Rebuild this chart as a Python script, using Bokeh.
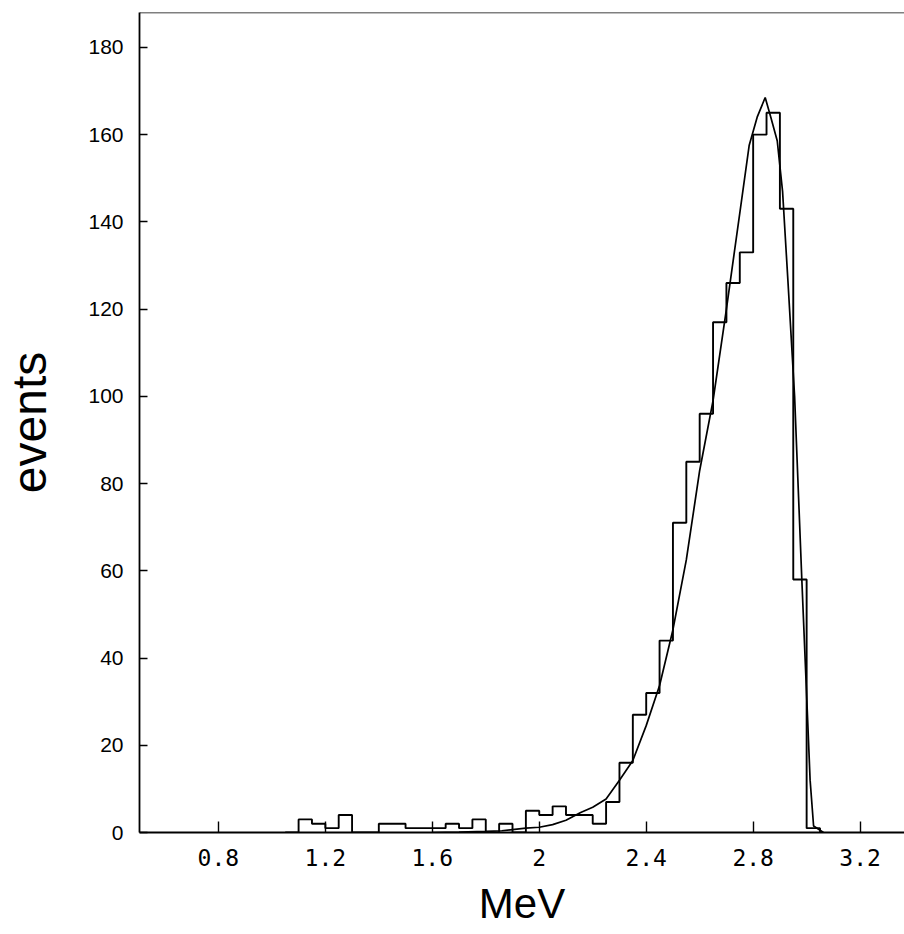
from bokeh.plotting import figure
from bokeh.models import Range1d, FixedTicker, Span
from bokeh.embed import file_html
from bokeh.resources import INLINE

# Histogram: bin starts (MeV), bin width 0.05, counts
bin_width = 0.05
bin_starts = [1.10, 1.15, 1.20, 1.25, 1.30, 1.35, 1.40, 1.45, 1.50, 1.55,
              1.60, 1.65, 1.70, 1.75, 1.80, 1.85, 1.90, 1.95, 2.00, 2.05,
              2.10, 2.15, 2.20, 2.25, 2.30, 2.35, 2.40, 2.45, 2.50, 2.55,
              2.60, 2.65, 2.70, 2.75, 2.80, 2.85, 2.90, 2.95, 3.00]
counts = [3, 2, 1, 4, 0, 0, 2, 2, 1, 1,
          1, 2, 1, 3, 0, 2, 0, 5, 4, 6,
          4, 4, 2, 7, 16, 27, 32, 44, 71, 85,
          96, 117, 126, 133, 160, 165, 143, 58, 1]

# Fitted curve
curve_x = [1.60, 1.70, 1.80, 1.86, 1.95, 2.00, 2.05, 2.10, 2.155, 2.20,
           2.25, 2.30, 2.35, 2.40, 2.45, 2.50, 2.55, 2.60, 2.65, 2.70,
           2.75, 2.785, 2.815, 2.845, 2.866, 2.89, 2.91, 2.93, 2.955, 2.982,
           3.003, 3.013, 3.026, 3.063]
curve_y = [0.0, 0.1, 0.25, 0.4, 1.0, 1.2, 1.8, 2.8, 4.6, 5.8,
           7.7, 12.0, 16.5, 24.5, 33.7, 46.5, 62.5, 83.0, 99.0, 120.0,
           142.0, 157.5, 164.0, 168.5, 164.0, 158.6, 147.0, 126.5, 100.0, 58.0,
           27.0, 12.0, 1.5, 0.0]

x_ticks = [0.8, 1.2, 1.6, 2.0, 2.4, 2.8, 3.2]
x_tick_labels = ["0.8", "1.2", "1.6", "2", "2.4", "2.8", "3.2"]
y_ticks = [0, 20, 40, 60, 80, 100, 120, 140, 160, 180]

x_label = "MeV"
y_label = "events"

x_start, x_end = 0.505, 3.366
y_start, y_end = 0, 188

p = figure(width=904, height=934, output_backend="svg", toolbar_location=None,
           x_range=Range1d(x_start, x_end), y_range=Range1d(y_start, y_end),
           min_border_left=139, min_border_right=0, min_border_top=12,
           min_border_bottom=102)

p.background_fill_color = "white"
p.border_fill_color = "white"
p.outline_line_color = None
p.grid.visible = False

# histogram as a step outline
step_x = [bin_starts[0] - bin_width] + bin_starts + [bin_starts[-1] + bin_width]
step_y = [0] + counts + [0]
p.step(step_x, step_y, mode="after", line_color="black", line_width=1.9)

# curve
p.line(curve_x, curve_y, line_color="black", line_width=1.7)

# top frame line
p.add_layout(Span(location=y_end, dimension="width", line_color="black", line_width=1.6))

# x axis
xa = p.xaxis[0]
xa.ticker = FixedTicker(ticks=x_ticks)
xa.major_label_overrides = {t: l for t, l in zip(x_ticks, x_tick_labels)}
xa.major_tick_in = 11
xa.major_tick_out = 0
xa.minor_tick_line_color = None
xa.axis_line_width = 1.8
xa.major_tick_line_width = 1.4
xa.major_label_text_font = "DejaVu Sans Mono"
xa.major_label_text_font_size = "23px"
xa.major_label_text_color = "black"
xa.major_label_standoff = 16
xa.axis_label = x_label
xa.axis_label_text_font = "Liberation Sans"
xa.axis_label_text_font_size = "42px"
xa.axis_label_text_font_style = "normal"
xa.axis_label_text_color = "black"
xa.axis_label_standoff = 11

# y axis
ya = p.yaxis[0]
ya.ticker = FixedTicker(ticks=y_ticks)
ya.major_tick_in = 8
ya.major_tick_out = 0
ya.minor_tick_line_color = None
ya.axis_line_width = 1.8
ya.major_tick_line_width = 1.4
ya.major_label_text_font = "Liberation Sans"
ya.major_label_text_font_size = "21px"
ya.major_label_text_color = "black"
ya.major_label_standoff = 16
ya.axis_label = y_label
ya.axis_label_text_font = "Liberation Sans"
ya.axis_label_text_font_size = "48px"
ya.axis_label_text_font_style = "normal"
ya.axis_label_text_color = "black"
ya.axis_label_standoff = 29

open("out.html", "w").write(file_html(p, INLINE))
